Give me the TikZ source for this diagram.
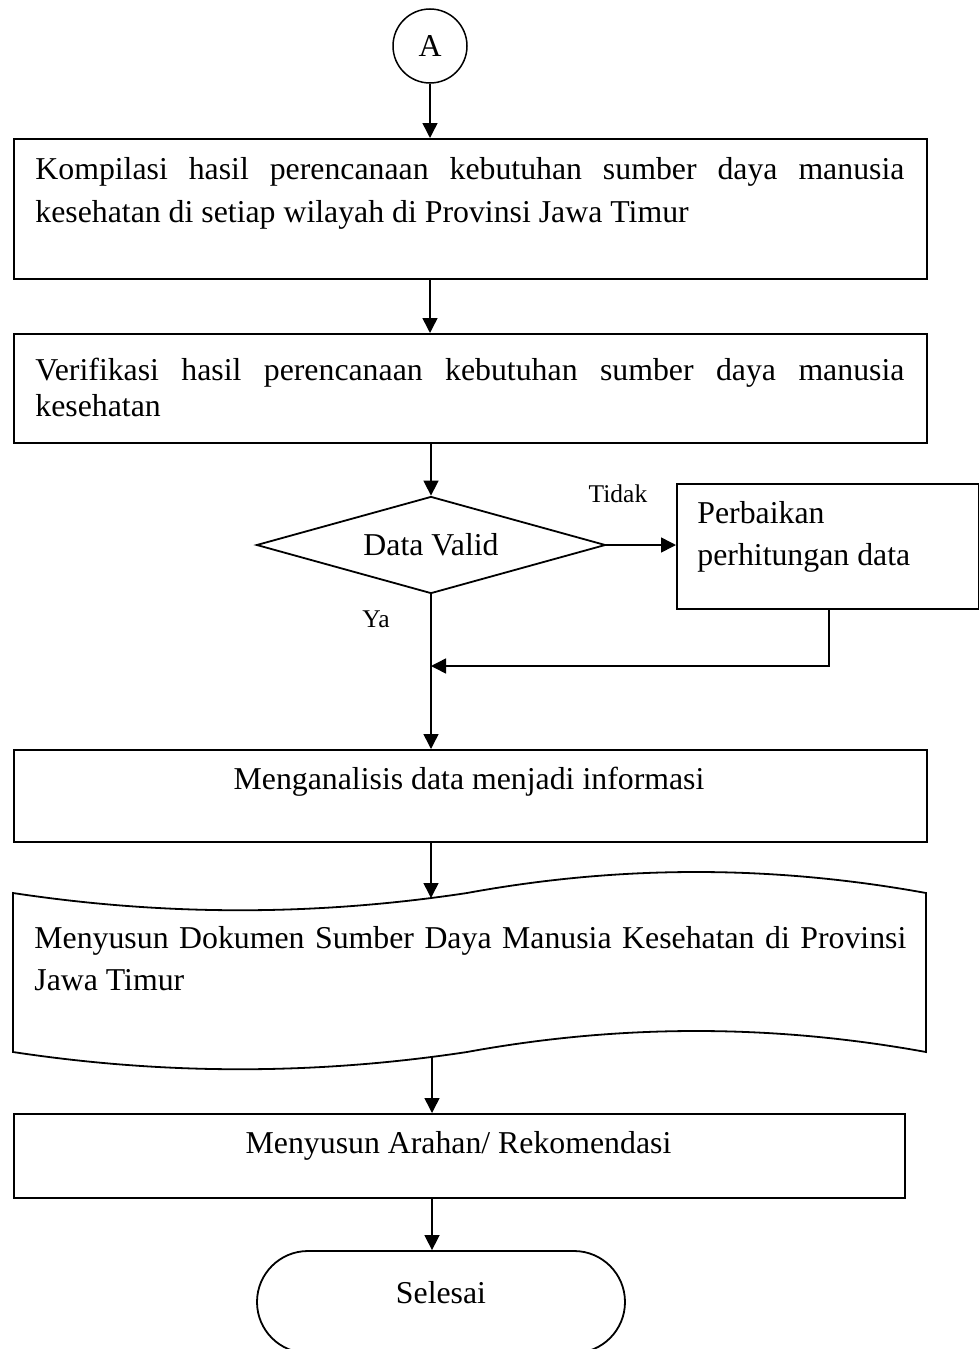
\documentclass[tikz,border=0pt]{standalone}
\usepackage{fontspec}
\setmainfont{Liberation Serif}
\usetikzlibrary{arrows.meta,shapes.geometric,shapes.misc}
\begin{document}
\begin{tikzpicture}[x=0.5pt,y=-0.5pt,
  mainfont/.style={font=\fontsize{15.9pt}{18pt}\selectfont, inner sep=0pt},
  smallfont/.style={font=\fontsize{12.75pt}{15pt}\selectfont, inner sep=0pt},
  boxshape/.style={draw, line width=0.9pt, rectangle, inner sep=0pt, anchor=north west},
  arr/.style={line width=0.75pt, -{Triangle[length=7.5pt,width=7.5pt]}},
  lin/.style={line width=0.75pt}]
\useasboundingbox (0,0) rectangle (979,1349);

% start connector
\node[draw, circle, line width=0.75pt, minimum size=37pt, inner sep=0pt, mainfont] (a) at (430,46) {A};

% boxes
\node[boxshape, minimum width=456.5pt, minimum height=70pt] (b1) at (13,138) {};
\node[boxshape, minimum width=456.5pt, minimum height=54.5pt] (b2) at (13,333) {};
\node[draw, diamond, line width=0.9pt, inner sep=0pt, minimum width=174.5pt, minimum height=48.5pt] (dia) at (431,545) {};
\node[boxshape, minimum width=151pt, minimum height=62.5pt] (b3) at (676,483) {};
\node[boxshape, minimum width=456.5pt, minimum height=46pt] (b4) at (13,749) {};
\node[boxshape, minimum width=445.5pt, minimum height=42pt] (b5) at (13,1113) {};
\node[draw, rounded rectangle, line width=0.9pt, inner sep=0pt, minimum width=184pt, minimum height=51pt] (endn) at (441,1302) {};

% document shape
\draw[line width=0.9pt]
  (13,893) .. controls (165,916) and (315,916) .. (467,893)
           .. controls (620,865) and (772,865) .. (926,893)
  -- (926,1052)
  .. controls (772,1024) and (620,1024) .. (467,1052)
  .. controls (315,1075) and (165,1075) .. (13,1052) -- cycle;
\coordinate (dtop) at (431,898);
\coordinate (dbot) at (432,1057);

% texts
\node[mainfont, anchor=base west] (t1a) at (35,179) {\makebox[434.5pt][s]{Kompilasi hasil perencanaan kebutuhan sumber daya manusia}};
\node[mainfont, anchor=base west] (t1b) at (35,222) {kesehatan di setiap wilayah di Provinsi Jawa Timur};
\node[mainfont, anchor=base west] (t2a) at (35,380) {\makebox[434.5pt][s]{Verifikasi hasil perencanaan kebutuhan sumber daya manusia}};
\node[mainfont, anchor=base west] (t2b) at (35,416) {kesehatan};
\node[mainfont, anchor=base] (tdv) at (431,555) {Data Valid};
\node[smallfont, anchor=base] (ttidak) at (618,502) {Tidak};
\node[smallfont, anchor=base west] (tya) at (362,627) {Ya};
\node[mainfont, anchor=base west] (t3a) at (697,523) {Perbaikan};
\node[mainfont, anchor=base west] (t3b) at (697,565) {perhitungan data};
\node[mainfont, anchor=base] (t4) at (469,789) {Menganalisis data menjadi informasi};
\node[mainfont, anchor=base west] (tda) at (34,948) {\makebox[436pt][s]{Menyusun Dokumen Sumber Daya Manusia Kesehatan di Provinsi}};
\node[mainfont, anchor=base west] (tdb) at (34,990) {Jawa Timur};
\node[mainfont, anchor=base] (t5) at (458.5,1153) {Menyusun Arahan/ Rekomendasi};
\node[mainfont, anchor=base] (tend) at (441,1303) {Selesai};

% connectors
\coordinate (fb) at (829,666);
\draw[arr] (a.south) -- (a.south |- b1.north);
\draw[arr] (b1.south -| a) -- (b2.north -| a);
\draw[arr] (b2.south -| dia) -- (dia.north);
\draw[arr] (dia.east) -- (dia.east -| b3.west);
\draw[arr] (b3.south -| fb) -- (fb) -- (fb -| dia.south);
\draw[arr] (dia.south) -- (dia.south |- b4.north);
\draw[arr] (b4.south -| dia) -- (dtop);
\draw[arr] (dbot) -- (dbot |- b5.north);
\draw[arr] (b5.south -| dbot) -- (endn.north -| dbot);
\end{tikzpicture}
\end{document}
